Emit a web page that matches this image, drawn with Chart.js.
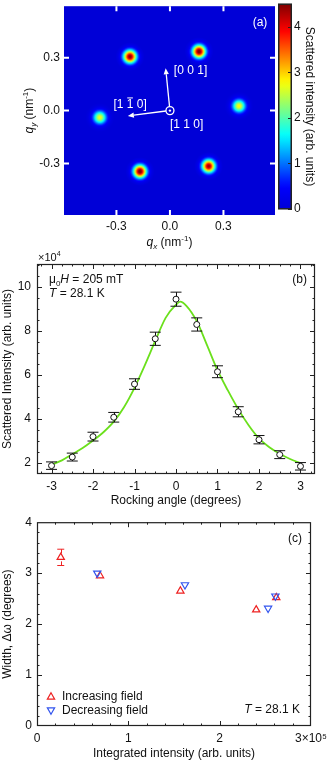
<!DOCTYPE html>
<html>
<head>
<meta charset="utf-8">
<script src="https://cdn.jsdelivr.net/npm/chart.js@4.4.0/dist/chart.umd.min.js"></script>
<style>
  html, body { margin: 0; padding: 0; background: #fff; }
  #fig { position: relative; width: 332px; height: 761px; overflow: hidden; }
  canvas { position: absolute; }
</style>
</head>
<body>
<div id="fig">
  <canvas id="mapChart" width="278" height="257" style="left:0;top:-5px"></canvas>
  <canvas id="cbarChart" width="54" height="223" style="left:278px;top:-5px"></canvas>
  <canvas id="rockChart" width="332" height="260" style="left:0;top:250px"></canvas>
  <canvas id="widthChart" width="332" height="251" style="left:0;top:510px"></canvas>
</div>
<script>
// Panel (a): diffraction spots (q in nm^-1, peak intensity in arb. units)
const spotQx = [-0.224, 0.163, 0.387, -0.393, -0.168, 0.217];
const spotQy = [0.306, 0.335, 0.026, -0.039, -0.345, -0.315];
const spotPeak = [4.5, 4.6, 2.8, 2.7, 4.6, 4.4];
const qTicks = [-0.3, 0.0, 0.3];
const cbarTicks = [0, 1, 2, 3, 4];
const cbarMax = 4.5;

// Panel (b): rocking curve, intensity in units of 10^4
const rockAngle = [-3, -2.5, -2, -1.5, -1, -0.5, 0, 0.5, 1, 1.5, 2, 2.5, 3];
const rockIntensity = [1.88, 2.27, 3.2, 4.08, 5.59, 7.65, 9.45, 8.3, 6.15, 4.33, 3.06, 2.38, 1.85];
const rockErr = [0.17, 0.18, 0.2, 0.22, 0.24, 0.3, 0.32, 0.3, 0.27, 0.23, 0.19, 0.18, 0.17];
// green fit line
const fitAngle = [-3, -2.75, -2.5, -2.25, -2, -1.75, -1.5, -1.25, -1, -0.75, -0.5, -0.25, 0, 0.1, 0.25, 0.5, 0.75, 1, 1.25, 1.5, 1.75, 2, 2.25, 2.5, 2.75, 3];
const fitIntensity = [1.92, 2.12, 2.4, 2.68, 3.02, 3.4, 3.88, 4.55, 5.42, 6.45, 7.55, 8.6, 9.2, 9.34, 9.15, 8.45, 7.35, 6.22, 5.3, 4.45, 3.72, 3.12, 2.72, 2.42, 2.18, 2.0];
const angleTicks = [-3, -2, -1, 0, 1, 2, 3];
const rockTicks = [2, 4, 6, 8, 10];

// Panel (c): width vs integrated intensity (units of 10^5)
const incIntegrated = [0.26, 0.69, 1.57, 2.40, 2.62];
const incWidth = [3.31, 2.95, 2.65, 2.28, 2.52];
const incErr = [0.16, 0.03, 0.03, 0.04, 0.03];
const decIntegrated = [0.66, 1.62, 2.53, 2.61];
const decWidth = [3.0, 2.77, 2.31, 2.55];
const decErr = [0.06, 0.03, 0.07, 0.04];
const integTicks = [0, 1, 2, 3];
const widthTicks = [0, 1, 2, 3, 4];

const FONT = '"Liberation Sans", Arial, Helvetica, sans-serif';
Chart.defaults.font.family = FONT;
Chart.defaults.font.size = 12;
Chart.defaults.color = '#111';
Chart.defaults.animation = false;
Chart.defaults.events = [];
Chart.defaults.plugins.legend.display = false;
Chart.defaults.plugins.tooltip.enabled = false;

// jet-like colour map used by the map and its colour bar
const cmapStops = [[0, [0, 0, 215]], [0.11, [0, 0, 255]], [0.36, [0, 255, 255]], [0.62, [255, 255, 0]], [0.87, [255, 0, 0]], [1, [128, 0, 0]]];
function cmap(v) {
  const t = Math.max(0, Math.min(1, v / cbarMax));
  for (let i = 1; i < cmapStops.length; i++) {
    const [t1, c1] = cmapStops[i];
    const [t0, c0] = cmapStops[i - 1];
    if (t <= t1) {
      const f = (t - t0) / (t1 - t0);
      const c = c0.map((a, k) => Math.round(a + (c1[k] - a) * f));
      return 'rgb(' + c.join(',') + ')';
    }
  }
  return 'rgb(128,0,0)';
}

// mixed text: parts are [text, style] with style '', 'i', 'sub', 'isub', 'sup'
function partFont(style, size) {
  const small = Math.round(size * 0.68);
  if (style === 'i') return 'italic ' + size + 'px ' + FONT;
  if (style === 'isub') return 'italic ' + small + 'px ' + FONT;
  if (style === 'sub' || style === 'sup') return small + 'px ' + FONT;
  return size + 'px ' + FONT;
}
function drawRich(ctx, parts, x, y, size, align) {
  let w = 0;
  parts.forEach(p => { ctx.font = partFont(p[1], size); w += ctx.measureText(p[0]).width; });
  let cx = align === 'center' ? x - w / 2 : align === 'right' ? x - w : x;
  ctx.textAlign = 'left';
  ctx.textBaseline = 'middle';
  parts.forEach(p => {
    ctx.font = partFont(p[1], size);
    let dy = 0;
    if (p[1] === 'sub' || p[1] === 'isub') dy = size * 0.32;
    if (p[1] === 'sup') dy = -size * 0.38;
    ctx.fillText(p[0], cx, y + dy);
    cx += ctx.measureText(p[0]).width;
  });
}

function arrow(ctx, x0, y0, x1, y1) {
  const ang = Math.atan2(y1 - y0, x1 - x0);
  const hl = 6, hw = 2.6;
  ctx.beginPath();
  ctx.moveTo(x0, y0);
  ctx.lineTo(x1 - hl * Math.cos(ang), y1 - hl * Math.sin(ang));
  ctx.stroke();
  ctx.beginPath();
  ctx.moveTo(x1, y1);
  ctx.lineTo(x1 - hl * Math.cos(ang) + hw * Math.sin(ang), y1 - hl * Math.sin(ang) - hw * Math.cos(ang));
  ctx.lineTo(x1 - hl * Math.cos(ang) - hw * Math.sin(ang), y1 - hl * Math.sin(ang) + hw * Math.cos(ang));
  ctx.closePath();
  ctx.fill();
}

const mapPlugin = {
  id: 'mapDraw',
  beforeDatasetsDraw(chart) {
    const { ctx, chartArea: a } = chart;
    ctx.save();
    ctx.fillStyle = cmap(0);
    ctx.fillRect(a.left, a.top, a.right - a.left, a.bottom - a.top);
    ctx.beginPath();
    ctx.rect(a.left, a.top, a.right - a.left, a.bottom - a.top);
    ctx.clip();
    chart.getDatasetMeta(0).data.forEach((pt, i) => {
      const R = 14, sig = 4.6;
      const g = ctx.createRadialGradient(pt.x, pt.y, 0, pt.x, pt.y, R);
      for (let k = 0; k <= 14; k++) {
        const r = k / 14 * R;
        g.addColorStop(k / 14, cmap(spotPeak[i] * Math.exp(-r * r / (2 * sig * sig))));
      }
      ctx.fillStyle = g;
      ctx.beginPath();
      ctx.arc(pt.x, pt.y, R, 0, Math.PI * 2);
      ctx.fill();
    });
    ctx.restore();
  },
  afterDraw(chart) {
    const { ctx, chartArea: a, scales: { x, y } } = chart;
    ctx.save();
    // white inward ticks
    ctx.strokeStyle = '#fff';
    ctx.lineWidth = 2;
    qTicks.forEach(v => {
      const px = x.getPixelForValue(v), py = y.getPixelForValue(v);
      ctx.beginPath();
      ctx.moveTo(px, a.top); ctx.lineTo(px, a.top + 5);
      ctx.moveTo(px, a.bottom); ctx.lineTo(px, a.bottom - 5);
      ctx.moveTo(a.left, py); ctx.lineTo(a.left + 5, py);
      ctx.moveTo(a.right, py); ctx.lineTo(a.right - 5, py);
      ctx.stroke();
    });
    // crystal directions
    const cx = x.getPixelForValue(0), cy = y.getPixelForValue(0);
    ctx.fillStyle = '#fff';
    ctx.lineWidth = 1.3;
    ctx.beginPath(); ctx.arc(cx, cy, 4, 0, Math.PI * 2); ctx.stroke();
    ctx.beginPath(); ctx.arc(cx, cy, 1.2, 0, Math.PI * 2); ctx.fill();
    arrow(ctx, cx - 0.4, cy - 4, x.getPixelForValue(-0.024), y.getPixelForValue(0.24));
    arrow(ctx, cx - 4, cy + 0.4, x.getPixelForValue(-0.236), y.getPixelForValue(-0.03));
    drawRich(ctx, [['[0 0 1]', '']], x.getPixelForValue(0.022), y.getPixelForValue(0.227), 12, 'left');
    const lx = x.getPixelForValue(-0.317), ly = y.getPixelForValue(0.035);
    drawRich(ctx, [['[1 1 0]', '']], lx, ly, 12, 'left');
    ctx.font = '12px ' + FONT;
    const o0 = ctx.measureText('[1 ').width, o1 = ctx.measureText('1').width;
    ctx.lineWidth = 1;
    ctx.beginPath(); ctx.moveTo(lx + o0 + 0.5, ly - 6.5); ctx.lineTo(lx + o0 + o1 - 0.5, ly - 6.5); ctx.stroke();
    drawRich(ctx, [['[1 1 0]', '']], x.getPixelForValue(0), y.getPixelForValue(-0.08), 12, 'left');
    drawRich(ctx, [['(a)', '']], a.right - 15, a.top + 16, 12, 'center');
    // axis titles
    ctx.fillStyle = '#111';
    drawRich(ctx, [['q', 'i'], ['x', 'isub'], [' (nm', ''], ['-1', 'sup'], [')', '']], (a.left + a.right) / 2, a.bottom + 28, 12, 'center');
    ctx.translate(30, (a.top + a.bottom) / 2);
    ctx.rotate(-Math.PI / 2);
    drawRich(ctx, [['q', 'i'], ['y', 'isub'], [' (nm', ''], ['-1', 'sup'], [')', '']], 0, 0, 12, 'center');
    ctx.restore();
  }
};

const cbarFrame = {
  id: 'cbarFrame',
  afterDatasetsDraw(chart) {
    const { ctx, chartArea: a, scales: { y } } = chart;
    ctx.save();
    ctx.strokeStyle = '#222';
    ctx.lineWidth = 1.5;
    ctx.strokeRect(a.left + 0.75, a.top, a.right - a.left - 1.5, a.bottom - a.top);
    ctx.lineWidth = 1;
    cbarTicks.forEach(v => {
      const py = Math.round(y.getPixelForValue(v)) + 0.5;
      ctx.beginPath(); ctx.moveTo(a.right - 4, py); ctx.lineTo(a.right, py); ctx.stroke();
    });
    ctx.restore();
  }
};

// vertical error bars, drawn just before their dataset
const errorBars = {
  id: 'errorBars',
  beforeDatasetDraw(chart, args) {
    const ds = chart.data.datasets[args.index];
    if (!ds.yErr) return;
    const { ctx, scales: { y } } = chart;
    ctx.save();
    ctx.strokeStyle = ds.errColor;
    ctx.lineWidth = 1;
    args.meta.data.forEach((pt, i) => {
      const v = ds.data[i].y, e = ds.yErr[i];
      const lo = y.getPixelForValue(v - e), hi = y.getPixelForValue(v + e);
      const px = Math.round(pt.x) + 0.5;
      ctx.beginPath();
      if (hi < pt.y - ds.gap) { ctx.moveTo(px, hi); ctx.lineTo(px, pt.y - ds.gap); }
      if (lo > pt.y + ds.gap) { ctx.moveTo(px, pt.y + ds.gap); ctx.lineTo(px, lo); }
      if (lo - hi > ds.gap * 2) {
        ctx.moveTo(pt.x - ds.capHalf, hi); ctx.lineTo(pt.x + ds.capHalf, hi);
        ctx.moveTo(pt.x - ds.capHalf, lo); ctx.lineTo(pt.x + ds.capHalf, lo);
      }
      ctx.stroke();
    });
    ctx.restore();
  }
};

// box frame with inward major and minor ticks on all four sides
function stepValues(min, max, step) {
  const out = [];
  for (let k = Math.ceil(min / step - 1e-9); k * step <= max + 1e-9; k++) out.push(k * step);
  return out;
}
const framePlugin = {
  id: 'frame',
  afterDatasetsDraw(chart, args, opts) {
    const { ctx, chartArea: a, scales: { x, y } } = chart;
    const isMajor = (v, m) => Math.abs(v / m - Math.round(v / m)) < 1e-6;
    ctx.save();
    ctx.strokeStyle = '#222';
    ctx.lineWidth = 1;
    ctx.beginPath();
    stepValues(x.min, x.max, opts.xMinor).forEach(v => {
      const px = Math.round(x.getPixelForValue(v)) + 0.5;
      if (px <= a.left + 1 || px >= a.right - 1) return;
      const len = isMajor(v, opts.xMajor) ? 5 : 2.5;
      ctx.moveTo(px, a.bottom); ctx.lineTo(px, a.bottom - len);
      ctx.moveTo(px, a.top); ctx.lineTo(px, a.top + len);
    });
    stepValues(y.min, y.max, opts.yMinor).forEach(v => {
      const py = Math.round(y.getPixelForValue(v)) + 0.5;
      if (py <= a.top + 1 || py >= a.bottom - 1) return;
      const len = isMajor(v, opts.yMajor) ? 5 : 2.5;
      ctx.moveTo(a.left, py); ctx.lineTo(a.left + len, py);
      ctx.moveTo(a.right, py); ctx.lineTo(a.right - len, py);
    });
    ctx.stroke();
    ctx.lineWidth = 1.2;
    ctx.strokeRect(a.left + 0.5, a.top + 0.5, a.right - a.left - 1, a.bottom - a.top - 1);
    ctx.restore();
  }
};

const rockText = {
  id: 'rockText',
  afterDraw(chart) {
    const { ctx, chartArea: a } = chart;
    ctx.save();
    ctx.fillStyle = '#111';
    drawRich(ctx, [['\u00d710', ''], ['4', 'sup']], a.left + 1, 8, 11, 'left');
    drawRich(ctx, [['\u03bc', ''], ['0', 'sub'], ['H', 'i'], [' = 205 mT', '']], a.left + 12, a.top + 16, 12, 'left');
    drawRich(ctx, [['T', 'i'], [' = 28.1 K', '']], a.left + 12, a.top + 30, 12, 'left');
    drawRich(ctx, [['(b)', '']], a.right - 8, a.top + 16, 12, 'right');
    ctx.restore();
  }
};

function tri(ctx, x, y, r, down) {
  const s = down ? -1 : 1;
  ctx.beginPath();
  ctx.moveTo(x, y - s * r);
  ctx.lineTo(x + r * 0.866, y + s * r * 0.5);
  ctx.lineTo(x - r * 0.866, y + s * r * 0.5);
  ctx.closePath();
  ctx.stroke();
}

const widthText = {
  id: 'widthText',
  afterDraw(chart) {
    const { ctx, chartArea: a } = chart;
    ctx.save();
    ctx.lineWidth = 1.2;
    ctx.strokeStyle = '#ee2222';
    tri(ctx, a.left + 14, a.bottom - 29, 4.2, false);
    ctx.strokeStyle = '#3355ee';
    tri(ctx, a.left + 14, a.bottom - 16, 4.2, true);
    ctx.fillStyle = '#111';
    drawRich(ctx, [['Increasing field', '']], a.left + 25, a.bottom - 29, 12, 'left');
    drawRich(ctx, [['Decreasing field', '']], a.left + 25, a.bottom - 15, 12, 'left');
    drawRich(ctx, [['T', 'i'], [' = 28.1 K', '']], a.right - 11, a.bottom - 16, 12, 'right');
    drawRich(ctx, [['(c)', '']], a.right - 9, a.top + 16, 12, 'right');
    ctx.restore();
  }
};

const plainGrid = { display: false, drawTicks: false };
const noBorder = { display: false };

// (a) map
new Chart(document.getElementById('mapChart'), {
  type: 'scatter',
  data: {
    datasets: [{ data: spotQx.map((q, i) => ({ x: q, y: spotQy[i] })), pointRadius: 0 }]
  },
  options: {
    responsive: false,
    layout: { autoPadding: false, padding: { left: 0, right: 3, top: 8, bottom: 0 } },
    scales: {
      x: {
        type: 'linear', min: -0.594, max: 0.589, grid: plainGrid, border: noBorder,
        afterBuildTicks: s => { s.ticks = qTicks.map(v => ({ value: v })); },
        afterFit: s => { s.height = 37; },
        ticks: { padding: 4, maxRotation: 0, callback: v => v.toFixed(1) }
      },
      y: {
        type: 'linear', min: -0.592, max: 0.592, grid: plainGrid, border: noBorder,
        afterBuildTicks: s => { s.ticks = qTicks.map(v => ({ value: v })); },
        afterFit: s => { s.width = 64; },
        ticks: { padding: 4, callback: v => v.toFixed(1) }
      }
    }
  },
  plugins: [mapPlugin]
});

// (a) colour bar
new Chart(document.getElementById('cbarChart'), {
  type: 'bar',
  data: {
    labels: [''],
    datasets: [{
      data: [cbarMax],
      barPercentage: 1,
      categoryPercentage: 1,
      borderWidth: 0,
      backgroundColor: c => {
        const a = c.chart.chartArea;
        if (!a) return cmap(0);
        const g = c.chart.ctx.createLinearGradient(0, a.bottom, 0, a.top);
        for (let k = 0; k <= 30; k++) g.addColorStop(k / 30, cmap(k / 30 * cbarMax));
        return g;
      }
    }]
  },
  options: {
    responsive: false,
    layout: { autoPadding: false, padding: { left: 0, right: 0, top: 8, bottom: 4 } },
    scales: {
      x: { display: false },
      y: {
        position: 'right', min: 0, max: cbarMax, grid: plainGrid, border: noBorder,
        afterBuildTicks: s => { s.ticks = cbarTicks.map(v => ({ value: v })); },
        afterFit: s => { s.width = 40; },
        ticks: { padding: 2 },
        title: { display: true, text: 'Scattered intensity (arb. units)', padding: { top: 15, bottom: 0 } }
      }
    }
  },
  plugins: [cbarFrame]
});

// (b) rocking curve
new Chart(document.getElementById('rockChart'), {
  type: 'scatter',
  data: {
    datasets: [
      {
        data: rockAngle.map((v, i) => ({ x: v, y: rockIntensity[i] })),
        yErr: rockErr, errColor: '#111', capHalf: 5.5, gap: 3,
        pointStyle: 'circle', pointRadius: 3, backgroundColor: '#fff', borderColor: '#111', borderWidth: 1,
        order: 0
      },
      {
        data: fitAngle.map((v, i) => ({ x: v, y: fitIntensity[i] })),
        showLine: true, pointRadius: 0, borderColor: '#6be01c', borderWidth: 1.8,
        cubicInterpolationMode: 'monotone', order: 1
      }
    ]
  },
  options: {
    responsive: false,
    layout: { autoPadding: false, padding: { left: 0, right: 17, top: 14, bottom: 0 } },
    plugins: { frame: { xMinor: 0.25, xMajor: 1, yMinor: 0.5, yMajor: 2 } },
    scales: {
      x: {
        type: 'linear', min: -3.35, max: 3.35, grid: plainGrid, border: noBorder,
        afterBuildTicks: s => { s.ticks = angleTicks.map(v => ({ value: v })); },
        afterFit: s => { s.height = 36; },
        ticks: { padding: 5, maxRotation: 0, callback: v => String(v) },
        title: { display: true, text: 'Rocking angle (degrees)', padding: { top: 0, bottom: 2 } }
      },
      y: {
        type: 'linear', min: 1.5, max: 11.05, grid: plainGrid, border: noBorder,
        afterBuildTicks: s => { s.ticks = rockTicks.map(v => ({ value: v })); },
        afterFit: s => { s.width = 37; },
        ticks: { padding: 6, callback: v => String(v) },
        title: { display: true, text: 'Scattered Intensity (arb. units)', padding: 0 }
      }
    }
  },
  plugins: [errorBars, framePlugin, rockText]
});

// (c) width vs integrated intensity
new Chart(document.getElementById('widthChart'), {
  type: 'scatter',
  data: {
    datasets: [
      {
        label: 'Increasing field',
        data: incIntegrated.map((v, i) => ({ x: v, y: incWidth[i] })),
        yErr: incErr, errColor: '#ee2222', capHalf: 3.5, gap: 4,
        pointStyle: 'triangle', pointRadius: 4.2, backgroundColor: 'rgba(0,0,0,0)',
        borderColor: '#ee2222', borderWidth: 1.2, order: 1
      },
      {
        label: 'Decreasing field',
        data: decIntegrated.map((v, i) => ({ x: v, y: decWidth[i] })),
        yErr: decErr, errColor: '#3355ee', capHalf: 3.5, gap: 4,
        pointStyle: 'triangle', pointRotation: 180, pointRadius: 4.2, backgroundColor: 'rgba(0,0,0,0)',
        borderColor: '#3355ee', borderWidth: 1.2, order: 0
      }
    ]
  },
  options: {
    responsive: false,
    layout: { autoPadding: false, padding: { left: 0, right: 17, top: 7, bottom: 0 } },
    plugins: { frame: { xMinor: 0.2, xMajor: 1, yMinor: 0.2, yMajor: 1 } },
    scales: {
      x: {
        type: 'linear', min: 0, max: 3, grid: plainGrid, border: noBorder,
        afterBuildTicks: s => { s.ticks = integTicks.map(v => ({ value: v })); },
        afterFit: s => { s.height = 35; },
        ticks: { padding: 5, maxRotation: 0, callback: v => (v === 3 ? '3\u00d710\u2075' : String(v)) },
        title: { display: true, text: 'Integrated intensity (arb. units)', padding: { top: 0, bottom: 0.5 } }
      },
      y: {
        type: 'linear', min: 0, max: 4, grid: plainGrid, border: noBorder,
        afterBuildTicks: s => { s.ticks = widthTicks.map(v => ({ value: v })); },
        afterFit: s => { s.width = 37; },
        ticks: { padding: 5, callback: v => String(v) },
        title: { display: true, text: 'Width, \u0394\u03c9 (degrees)', padding: 0 }
      }
    }
  },
  plugins: [errorBars, framePlugin, widthText]
});
</script>
</body>
</html>
